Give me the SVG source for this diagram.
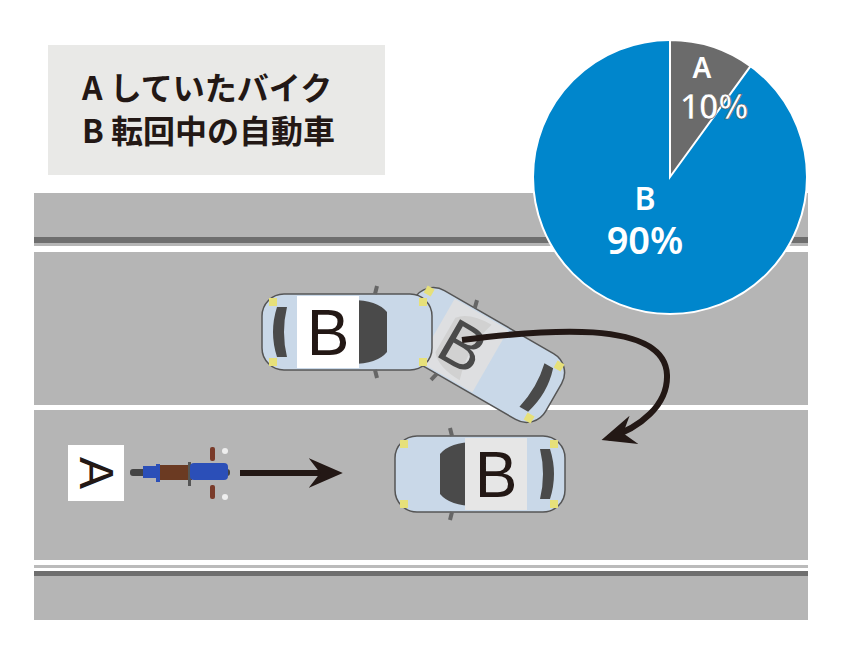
<svg xmlns="http://www.w3.org/2000/svg" width="850" height="659" viewBox="0 0 850 659">
<defs>
<style>
.t{font-family:"Noto Sans CJK JP","Noto Sans",sans-serif;font-weight:bold}
.lbl{font-family:"Liberation Sans",sans-serif;fill:#231815}
.pt{font-family:"Noto Sans","Liberation Sans",sans-serif;fill:#fff;text-anchor:middle;font-weight:600}
.body{fill:#c9d8e8;stroke:#555;stroke-width:1.5}
.glass{fill:#4a4a4a}
.lamp{fill:#e6e07a}
</style>
<g id="car">
<rect x="-85" y="-38" width="170" height="76" rx="22" class="body"/>
<path d="M-70,-25 Q-78,0 -70,25 L-60,25 Q-66,0 -60,-25Z" class="glass"/>
<path d="M5,-32 Q30,-32 40,-20 L40,20 Q30,32 5,32 Q15,0 5,-32Z" class="glass"/>
<rect x="-78" y="-34" width="8" height="8" class="lamp"/>
<rect x="-78" y="26" width="8" height="8" class="lamp"/>
<rect x="72" y="-34" width="8" height="8" class="lamp"/>
<rect x="72" y="26" width="8" height="8" class="lamp"/>
<path d="M28,-38 L30,-46 M28,38 L30,46" stroke="#666" stroke-width="4"/>
</g>
<marker id="ah" viewBox="0 0 30 30" refX="24" refY="15" markerWidth="34" markerHeight="34" markerUnits="userSpaceOnUse" orient="auto"><path d="M0,2 L30,15 L0,28 L10,15Z" fill="#231815"/></marker>
</defs>
<rect width="850" height="659" fill="#fff"/>
<g id="road">
<rect x="34" y="193" width="774" height="53" fill="#b5b5b5"/>
<rect x="34" y="237" width="774" height="6" fill="#6e6e6e"/>
<rect x="34" y="252" width="774" height="308" fill="#b5b5b5"/>
<rect x="34" y="405" width="774" height="5" fill="#fff"/>
<rect x="34" y="565" width="774" height="3" fill="#bbb"/>
<rect x="34" y="571" width="774" height="5" fill="#6e6e6e"/>
<rect x="34" y="576" width="774" height="44" fill="#b5b5b5"/>
</g>
<g id="legend">
<rect x="48" y="45" width="337" height="130" fill="#e9e9e7"/>
<text x="82" y="100" class="t" font-size="32" fill="#231815">A していたバイク</text>
<text x="82" y="143" class="t" font-size="32" fill="#231815">B 転回中の自動車</text>
</g>
<g id="pie">
<circle cx="670" cy="177" r="137" fill="#0086cc" stroke="#fff" stroke-width="2"/>
<path d="M670,177 L670,40 A137,137 0 0 1 750.5,66.2 Z" fill="#6b6b6b" stroke="#fff" stroke-width="2"/>
<text x="702" y="78" class="pt" font-size="28">A</text>
<text x="714" y="119" class="pt" font-size="34" stroke="#555" stroke-width="0.6">10%</text>
<text x="645" y="210" class="pt" font-size="32">B</text>
<text x="645" y="254" class="pt" font-size="38">90%</text>
</g>
<g id="carB2">
<g transform="translate(480,355) rotate(30)">
<use href="#car" transform="rotate(180)"/>
<rect x="-50" y="-36" width="62" height="72" fill="#e0e0e0" opacity="0.9"/>
<text x="-19" y="23" class="lbl" font-size="64" text-anchor="middle" style="fill:#4a4a4a">B</text>
</g>
</g>
<g id="carB1">
<g transform="translate(347,332)">
<use href="#car"/>
<rect x="-50" y="-36" width="62" height="72" fill="#fff"/>
<text x="-19" y="23" class="lbl" font-size="64" text-anchor="middle">B</text>
</g>
</g>
<g id="carB3">
<g transform="translate(480,474)">
<use href="#car" transform="rotate(180)"/>
<rect x="-15" y="-36" width="62" height="72" fill="#e6e6e6"/>
<text x="16" y="23" class="lbl" font-size="64" text-anchor="middle">B</text>
</g>
</g>
<g id="bikeA">
<rect x="68" y="445" width="56" height="56" fill="#fff"/>
<text x="96" y="473" class="lbl" font-size="48" text-anchor="middle" dominant-baseline="central" transform="rotate(90 96 473)">A</text>
<rect x="130" y="469" width="100" height="7" rx="3" fill="#444"/>
<rect x="143" y="466" width="22" height="12" fill="#2b4fb8"/>
<rect x="156" y="464" width="4" height="18" fill="#2b4fb8"/>
<rect x="160" y="465" width="32" height="15" fill="#6b3a22"/>
<rect x="188" y="462" width="3" height="24" fill="#555"/>
<rect x="190" y="463" width="38" height="17" rx="4" fill="#2b4fb8"/>
<rect x="210" y="447" width="5" height="14" rx="2" fill="#7a3b2a"/>
<rect x="210" y="485" width="5" height="14" rx="2" fill="#7a3b2a"/>
<circle cx="225" cy="451" r="3" fill="#eee"/>
<circle cx="225" cy="497" r="3" fill="#eee"/>
</g>
<g id="connectors" fill="none" stroke="#231815" stroke-width="6">
<path d="M240,473 L336,473" marker-end="url(#ah)"/>
<path d="M462,340 C540,330 665,318 667,375 C668,405 640,428 608,438" marker-end="url(#ah)"/>
</g>
</svg>
